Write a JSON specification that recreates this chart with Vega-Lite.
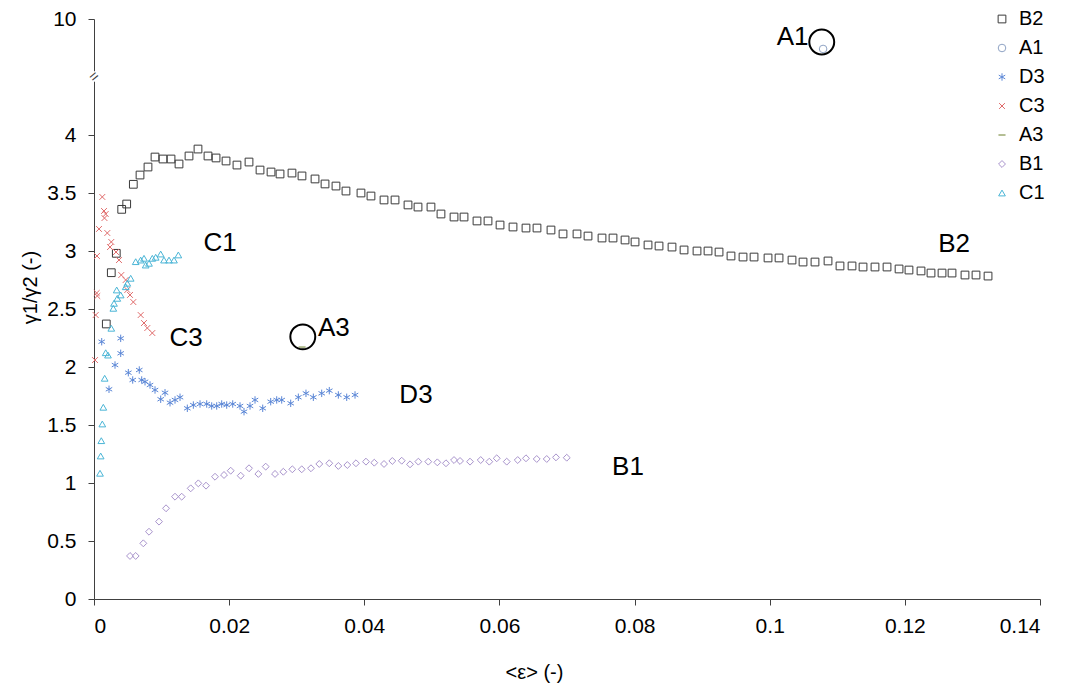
{
  "$schema": "https://vega.github.io/schema/vega-lite/v6.json",
  "width": 946,
  "height": 580,
  "autosize": "none",
  "padding": {"left": 94, "top": 19, "right": 28, "bottom": 91},
  "background": "white",
  "config": {
    "font": "Liberation Sans",
    "view": {"stroke": null},
    "axis": {
      "grid": false,
      "domainColor": "#404040",
      "tickColor": "#404040",
      "labelColor": "#000000",
      "titleColor": "#000000",
      "labelFont": "Liberation Sans",
      "titleFont": "Liberation Sans",
      "labelFontSize": 21,
      "titleFontSize": 20,
      "titleFontWeight": "normal",
      "tickSize": 6
    },
    "legend": {
      "labelFont": "Liberation Sans",
      "labelFontSize": 20,
      "labelColor": "#000000"
    }
  },
  "datasets": {
    "series": [
      {"s":"B2","x":0.00182,"y":2.371},{"s":"B2","x":0.00256,"y":2.813},{"s":"B2","x":0.0033,"y":2.98},{"s":"B2","x":0.0041,"y":3.359},{"s":"B2","x":0.00484,"y":3.405},{"s":"B2","x":0.00582,"y":3.575},{"s":"B2","x":0.00681,"y":3.655},{"s":"B2","x":0.00799,"y":3.724},{"s":"B2","x":0.00903,"y":3.81},{"s":"B2","x":0.01021,"y":3.793},{"s":"B2","x":0.0114,"y":3.793},{"s":"B2","x":0.01258,"y":3.75},{"s":"B2","x":0.01406,"y":3.819},{"s":"B2","x":0.01539,"y":3.879},{"s":"B2","x":0.01687,"y":3.819},{"s":"B2","x":0.01806,"y":3.802},{"s":"B2","x":0.01954,"y":3.776},{"s":"B2","x":0.02116,"y":3.741},{"s":"B2","x":0.02294,"y":3.767},{"s":"B2","x":0.02457,"y":3.698},{"s":"B2","x":0.0262,"y":3.681},{"s":"B2","x":0.02753,"y":3.664},{"s":"B2","x":0.0293,"y":3.672},{"s":"B2","x":0.03078,"y":3.647},{"s":"B2","x":0.03271,"y":3.621},{"s":"B2","x":0.03419,"y":3.578},{"s":"B2","x":0.03581,"y":3.56},{"s":"B2","x":0.03729,"y":3.517},{"s":"B2","x":0.03951,"y":3.5},{"s":"B2","x":0.04099,"y":3.474},{"s":"B2","x":0.04292,"y":3.44},{"s":"B2","x":0.04455,"y":3.44},{"s":"B2","x":0.04647,"y":3.397},{"s":"B2","x":0.04795,"y":3.379},{"s":"B2","x":0.04987,"y":3.379},{"s":"B2","x":0.05135,"y":3.319},{"s":"B2","x":0.05328,"y":3.293},{"s":"B2","x":0.05476,"y":3.293},{"s":"B2","x":0.05668,"y":3.259},{"s":"B2","x":0.05831,"y":3.259},{"s":"B2","x":0.06009,"y":3.224},{"s":"B2","x":0.06201,"y":3.207},{"s":"B2","x":0.06393,"y":3.198},{"s":"B2","x":0.06556,"y":3.198},{"s":"B2","x":0.06763,"y":3.181},{"s":"B2","x":0.06941,"y":3.147},{"s":"B2","x":0.07148,"y":3.147},{"s":"B2","x":0.07311,"y":3.129},{"s":"B2","x":0.07518,"y":3.112},{"s":"B2","x":0.07681,"y":3.112},{"s":"B2","x":0.07859,"y":3.095},{"s":"B2","x":0.08007,"y":3.078},{"s":"B2","x":0.08199,"y":3.052},{"s":"B2","x":0.08362,"y":3.043},{"s":"B2","x":0.08554,"y":3.034},{"s":"B2","x":0.08732,"y":3.009},{"s":"B2","x":0.08924,"y":3.0},{"s":"B2","x":0.09087,"y":3.0},{"s":"B2","x":0.0925,"y":2.991},{"s":"B2","x":0.09427,"y":2.957},{"s":"B2","x":0.09605,"y":2.948},{"s":"B2","x":0.09768,"y":2.948},{"s":"B2","x":0.09975,"y":2.94},{"s":"B2","x":0.10138,"y":2.94},{"s":"B2","x":0.1033,"y":2.922},{"s":"B2","x":0.10493,"y":2.905},{"s":"B2","x":0.1067,"y":2.905},{"s":"B2","x":0.10863,"y":2.914},{"s":"B2","x":0.1104,"y":2.871},{"s":"B2","x":0.11218,"y":2.871},{"s":"B2","x":0.11381,"y":2.862},{"s":"B2","x":0.11558,"y":2.862},{"s":"B2","x":0.11736,"y":2.862},{"s":"B2","x":0.11914,"y":2.845},{"s":"B2","x":0.12061,"y":2.836},{"s":"B2","x":0.12239,"y":2.828},{"s":"B2","x":0.12387,"y":2.81},{"s":"B2","x":0.1255,"y":2.81},{"s":"B2","x":0.12698,"y":2.81},{"s":"B2","x":0.1289,"y":2.793},{"s":"B2","x":0.13053,"y":2.793},{"s":"B2","x":0.13231,"y":2.784},
      {"s":"A1","x":0.1079,"y":7.16},
      {"s":"D3","x":0.00114,"y":2.218},{"s":"D3","x":0.00395,"y":2.247},{"s":"D3","x":0.00395,"y":2.118},{"s":"D3","x":0.00311,"y":2.017},{"s":"D3","x":0.00222,"y":1.808},{"s":"D3","x":0.00508,"y":1.951},{"s":"D3","x":0.0067,"y":1.974},{"s":"D3","x":0.00573,"y":1.888},{"s":"D3","x":0.00706,"y":1.888},{"s":"D3","x":0.00755,"y":1.873},{"s":"D3","x":0.00829,"y":1.845},{"s":"D3","x":0.00903,"y":1.802},{"s":"D3","x":0.01051,"y":1.778},{"s":"D3","x":0.00987,"y":1.722},{"s":"D3","x":0.01125,"y":1.692},{"s":"D3","x":0.01199,"y":1.716},{"s":"D3","x":0.01273,"y":1.739},{"s":"D3","x":0.01381,"y":1.644},{"s":"D3","x":0.0147,"y":1.672},{"s":"D3","x":0.01569,"y":1.681},{"s":"D3","x":0.01668,"y":1.681},{"s":"D3","x":0.01742,"y":1.664},{"s":"D3","x":0.01816,"y":1.664},{"s":"D3","x":0.0189,"y":1.681},{"s":"D3","x":0.01964,"y":1.672},{"s":"D3","x":0.02053,"y":1.681},{"s":"D3","x":0.02161,"y":1.664},{"s":"D3","x":0.0222,"y":1.615},{"s":"D3","x":0.02309,"y":1.664},{"s":"D3","x":0.02383,"y":1.716},{"s":"D3","x":0.02497,"y":1.644},{"s":"D3","x":0.02615,"y":1.701},{"s":"D3","x":0.02704,"y":1.716},{"s":"D3","x":0.02778,"y":1.716},{"s":"D3","x":0.02911,"y":1.687},{"s":"D3","x":0.03024,"y":1.739},{"s":"D3","x":0.03137,"y":1.773},{"s":"D3","x":0.03246,"y":1.739},{"s":"D3","x":0.0337,"y":1.773},{"s":"D3","x":0.03482,"y":1.796},{"s":"D3","x":0.03616,"y":1.759},{"s":"D3","x":0.0374,"y":1.739},{"s":"D3","x":0.03863,"y":1.759},
      {"s":"C3","x":0.00123,"y":3.466},{"s":"C3","x":0.00148,"y":3.345},{"s":"C3","x":0.00173,"y":3.319},{"s":"C3","x":0.00155,"y":3.284},{"s":"C3","x":0.00074,"y":3.19},{"s":"C3","x":0.00197,"y":3.155},{"s":"C3","x":0.00256,"y":3.078},{"s":"C3","x":0.00237,"y":3.034},{"s":"C3","x":0.00044,"y":2.957},{"s":"C3","x":0.00326,"y":2.991},{"s":"C3","x":0.0037,"y":2.922},{"s":"C3","x":0.00404,"y":2.793},{"s":"C3","x":0.00469,"y":2.75},{"s":"C3","x":0.0004,"y":2.638},{"s":"C3","x":0.00049,"y":2.612},{"s":"C3","x":0.00493,"y":2.664},{"s":"C3","x":0.00533,"y":2.621},{"s":"C3","x":0.00582,"y":2.56},{"s":"C3","x":0.00025,"y":2.448},{"s":"C3","x":0.00691,"y":2.448},{"s":"C3","x":0.0074,"y":2.379},{"s":"C3","x":0.00789,"y":2.336},{"s":"C3","x":0.00863,"y":2.293},{"s":"C3","x":0.00015,"y":2.06},
      {"s":"A3","x":0.0308,"y":2.172},
      {"s":"B1","x":0.00533,"y":0.371},{"s":"B1","x":0.00617,"y":0.371},{"s":"B1","x":0.0073,"y":0.48},{"s":"B1","x":0.00814,"y":0.58},{"s":"B1","x":0.00962,"y":0.667},{"s":"B1","x":0.01066,"y":0.782},{"s":"B1","x":0.01199,"y":0.882},{"s":"B1","x":0.01298,"y":0.882},{"s":"B1","x":0.01431,"y":0.954},{"s":"B1","x":0.01544,"y":0.997},{"s":"B1","x":0.01658,"y":0.977},{"s":"B1","x":0.01791,"y":1.054},{"s":"B1","x":0.01924,"y":1.069},{"s":"B1","x":0.02023,"y":1.106},{"s":"B1","x":0.02171,"y":1.063},{"s":"B1","x":0.02294,"y":1.127},{"s":"B1","x":0.02432,"y":1.078},{"s":"B1","x":0.02541,"y":1.141},{"s":"B1","x":0.02679,"y":1.078},{"s":"B1","x":0.02802,"y":1.097},{"s":"B1","x":0.02935,"y":1.118},{"s":"B1","x":0.03074,"y":1.118},{"s":"B1","x":0.03211,"y":1.127},{"s":"B1","x":0.03334,"y":1.164},{"s":"B1","x":0.03482,"y":1.17},{"s":"B1","x":0.03616,"y":1.147},{"s":"B1","x":0.03749,"y":1.155},{"s":"B1","x":0.03877,"y":1.17},{"s":"B1","x":0.04025,"y":1.184},{"s":"B1","x":0.04148,"y":1.175},{"s":"B1","x":0.04292,"y":1.164},{"s":"B1","x":0.04415,"y":1.19},{"s":"B1","x":0.04554,"y":1.192},{"s":"B1","x":0.04677,"y":1.161},{"s":"B1","x":0.048,"y":1.184},{"s":"B1","x":0.04947,"y":1.184},{"s":"B1","x":0.05081,"y":1.178},{"s":"B1","x":0.05209,"y":1.17},{"s":"B1","x":0.05328,"y":1.198},{"s":"B1","x":0.05417,"y":1.19},{"s":"B1","x":0.05565,"y":1.184},{"s":"B1","x":0.05723,"y":1.198},{"s":"B1","x":0.0585,"y":1.184},{"s":"B1","x":0.0596,"y":1.213},{"s":"B1","x":0.06108,"y":1.184},{"s":"B1","x":0.06271,"y":1.198},{"s":"B1","x":0.06393,"y":1.213},{"s":"B1","x":0.06552,"y":1.207},{"s":"B1","x":0.067,"y":1.207},{"s":"B1","x":0.06837,"y":1.221},{"s":"B1","x":0.06996,"y":1.218},
      {"s":"C1","x":0.00089,"y":1.084},{"s":"C1","x":0.00099,"y":1.233},{"s":"C1","x":0.00108,"y":1.365},{"s":"C1","x":0.00123,"y":1.509},{"s":"C1","x":0.00138,"y":1.653},{"s":"C1","x":0.00158,"y":1.903},{"s":"C1","x":0.00173,"y":2.123},{"s":"C1","x":0.00207,"y":2.103},{"s":"C1","x":0.00256,"y":2.334},{"s":"C1","x":0.00286,"y":2.506},{"s":"C1","x":0.00296,"y":2.549},{"s":"C1","x":0.00345,"y":2.592},{"s":"C1","x":0.00395,"y":2.621},{"s":"C1","x":0.00336,"y":2.664},{"s":"C1","x":0.00469,"y":2.692},{"s":"C1","x":0.00493,"y":2.722},{"s":"C1","x":0.00543,"y":2.765},{"s":"C1","x":0.00617,"y":2.908},{"s":"C1","x":0.00691,"y":2.922},{"s":"C1","x":0.0074,"y":2.937},{"s":"C1","x":0.00765,"y":2.879},{"s":"C1","x":0.00814,"y":2.894},{"s":"C1","x":0.00863,"y":2.937},{"s":"C1","x":0.00913,"y":2.946},{"s":"C1","x":0.00987,"y":2.974},{"s":"C1","x":0.01036,"y":2.922},{"s":"C1","x":0.0111,"y":2.922},{"s":"C1","x":0.01184,"y":2.922},{"s":"C1","x":0.01248,"y":2.966}
    ],
    "notes": [
      {"label":"A1","x":0.1034,"y":8.29},
      {"label":"C1","x":0.01865,"y":3.069},
      {"label":"C3","x":0.01362,"y":2.25},
      {"label":"A3","x":0.0355,"y":2.336},
      {"label":"D3","x":0.04765,"y":1.759},
      {"label":"B1","x":0.07903,"y":1.138},
      {"label":"B2","x":0.1273,"y":3.06}
    ],
    "rings": [
      {"x":0.1077,"y":7.82},
      {"x":0.0309,"y":2.26}
    ],
    "brk": [
      {"x":0,"y":4.55}
    ]
  },
  "layer": [
    {
      "data": {"name": "series"},
      "mark": {"type": "point", "filled": false, "strokeWidth": 1, "opacity": 1},
      "encoding": {
        "x": {
          "field": "x", "type": "quantitative",
          "scale": {"domain": [0, 0.14], "nice": false, "zero": false},
          "axis": {
            "values": [0, 0.02, 0.04, 0.06, 0.08, 0.1, 0.12, 0.14],
            "format": "~g",
            "title": "<ε> (-)",
            "labelPadding": 10,
            "titleX": 440,
            "titleY": 73,
            "titleBaseline": "middle",
            "titleAnchor": null
          }
        },
        "y": {
          "field": "y", "type": "quantitative",
          "scale": {"domain": [0, 4.5, 10], "range": [580, 58, 0], "nice": false, "zero": false},
          "axis": {
            "values": [0, 0.5, 1, 1.5, 2, 2.5, 3, 3.5, 4, 10],
            "format": "~g",
            "title": "γ1/γ2 (-)",
            "labelPadding": 12,
            "titleX": -64,
            "titleY": 268,
            "titleAngle": -90,
            "titleAlign": "center",
            "titleBaseline": "middle",
            "titleAnchor": null
          }
        },
        "color": {
          "field": "s", "type": "nominal",
          "scale": {
            "domain": ["B2", "A1", "D3", "C3", "A3", "B1", "C1"],
            "range": ["#3a3a3a", "#8fa3c4", "#5a86d6", "#e06a6a", "#6b7f2a", "#a893cc", "#4ab5d6"]
          },
          "legend": {
            "title": null,
            "orient": "none",
            "legendX": 898,
            "legendY": -10,
            "symbolSize": 36,
            "symbolStrokeWidth": 1,
            "rowPadding": 9,
            "labelOffset": 7
          }
        },
        "shape": {
          "field": "s", "type": "nominal",
          "scale": {
            "domain": ["B2", "A1", "D3", "C3", "A3", "B1", "C1"],
            "range": [
              "square",
              "circle",
              "M0,-1L0,1M-0.87,-0.5L0.87,0.5M-0.87,0.5L0.87,-0.5",
              "M-0.8,-0.8L0.8,0.8M-0.8,0.8L0.8,-0.8",
              "stroke",
              "diamond",
              "triangle-up"
            ]
          },
          "legend": null
        },
        "size": {
          "field": "s", "type": "nominal",
          "scale": {
            "domain": ["B2", "A1", "D3", "C3", "A3", "B1", "C1"],
            "range": [60, 45, 110, 95, 60, 50, 55]
          },
          "legend": null
        }
      }
    },
    {
      "data": {"name": "rings"},
      "mark": {"type": "point", "shape": "circle", "filled": false, "stroke": "#000000", "strokeWidth": 2, "size": 620, "opacity": 1},
      "encoding": {
        "x": {"field": "x", "type": "quantitative"},
        "y": {"field": "y", "type": "quantitative"}
      }
    },
    {
      "data": {"name": "notes"},
      "mark": {"type": "text", "fontSize": 26, "font": "Liberation Sans", "color": "#000000", "align": "center", "baseline": "middle"},
      "encoding": {
        "x": {"field": "x", "type": "quantitative"},
        "y": {"field": "y", "type": "quantitative"},
        "text": {"field": "label"}
      }
    },
    {
      "data": {"name": "brk"},
      "mark": {"type": "point", "shape": "square", "filled": true, "color": "white", "size": 110, "opacity": 1, "strokeWidth": 0},
      "encoding": {
        "x": {"field": "x", "type": "quantitative"},
        "y": {"field": "y", "type": "quantitative"}
      }
    },
    {
      "data": {"name": "brk"},
      "mark": {"type": "text", "text": "=", "fontSize": 15, "angle": -40, "color": "#404040", "align": "center", "baseline": "middle"},
      "encoding": {
        "x": {"field": "x", "type": "quantitative"},
        "y": {"field": "y", "type": "quantitative"}
      }
    }
  ]
}
